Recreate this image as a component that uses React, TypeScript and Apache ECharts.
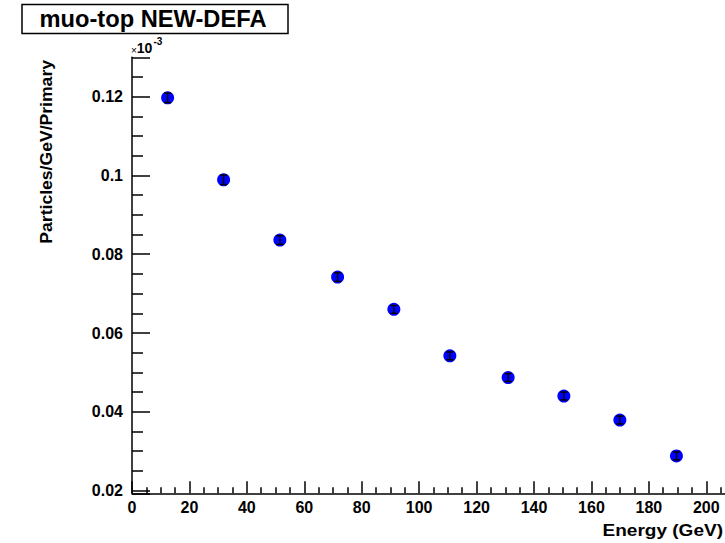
import React, { useEffect, useRef } from "react";
import * as echarts from "echarts";

const energy = [12.4, 31.9, 51.5, 71.6, 91.2, 110.7, 131.0, 150.4, 169.9, 189.6];
const particles = [0.1197, 0.0989, 0.0836, 0.0742, 0.066, 0.0542, 0.0487, 0.044, 0.0379, 0.0288];
const errors = [0.0012, 0.0012, 0.0011, 0.0011, 0.001, 0.001, 0.001, 0.001, 0.001, 0.001];

const titleText = "muo-top NEW-DEFA";
const xName = "Energy (GeV)";
const yName = "Particles/GeV/Primary";

const FONT = "'Liberation Sans', Arial, Helvetica, sans-serif";

export default function App() {
  const ref = useRef<HTMLDivElement>(null);
  useEffect(() => {
    if (!ref.current) return;
    const chart = echarts.init(ref.current, null, { renderer: "svg" });
    const points = energy.map((x, i) => [x, particles[i]]);
    const errData = energy.map((x, i) => [x, particles[i], errors[i]]);
    chart.setOption({
      animation: false,
      backgroundColor: "#ffffff",
      grid: { left: 132, top: 57.3, width: 603, height: 436, containLabel: false },
      xAxis: {
        type: "value",
        min: 0,
        max: 210,
        interval: 20,
        axisLine: { show: true, lineStyle: { color: "#000", width: 1.5 } },
        axisTick: { show: true, inside: true, length: 12, lineStyle: { color: "#000", width: 1.5 } },
        minorTick: { show: true, splitNumber: 4, length: 6, lineStyle: { color: "#000", width: 1.5 } },
        splitLine: { show: false },
        minorSplitLine: { show: false },
        axisLabel: {
          show: true,
          margin: 6,
          color: "#000",
          fontFamily: FONT,
          fontWeight: "bold",
          fontSize: 16,
          showMaxLabel: false,
        },
      },
      yAxis: {
        type: "value",
        min: 0.0193,
        max: 0.13,
        splitNumber: 5,
        axisLine: { show: true, onZero: false, lineStyle: { color: "#000", width: 1.5 } },
        axisTick: { show: true, inside: true, length: 18, lineStyle: { color: "#000", width: 1.5 } },
        minorTick: { show: true, splitNumber: 4, length: 11, lineStyle: { color: "#000", width: 1.5 } },
        splitLine: { show: false },
        minorSplitLine: { show: false },
        axisLabel: {
          show: true,
          margin: 9,
          color: "#000",
          fontFamily: FONT,
          fontWeight: "bold",
          fontSize: 16,
          showMinLabel: false,
          showMaxLabel: false,
        },
      },
      series: [
        {
          type: "scatter",
          data: points,
          symbol: "circle",
          symbolSize: 13,
          itemStyle: { color: "#0000ff", opacity: 1 },
          z: 2,
        },
        {
          type: "custom",
          data: errData,
          z: 3,
          renderItem: (params: any, api: any) => {
            const x = api.value(0);
            const y = api.value(1);
            const e = api.value(2);
            const c = api.coord([x, y]);
            const t = api.coord([x, y + e]);
            const b = api.coord([x, y - e]);
            const cap = 3.5;
            const st = { stroke: "#000", lineWidth: 1.5 };
            return {
              type: "group",
              children: [
                { type: "line", shape: { x1: c[0], y1: t[1], x2: c[0], y2: b[1] }, style: st },
                { type: "line", shape: { x1: c[0] - cap, y1: t[1], x2: c[0] + cap, y2: t[1] }, style: st },
                { type: "line", shape: { x1: c[0] - cap, y1: b[1], x2: c[0] + cap, y2: b[1] }, style: st },
              ],
            };
          },
        },
      ],
      graphic: [
        {
          type: "rect",
          shape: { x: 22, y: 4.5, width: 266, height: 29 },
          style: { fill: "#fff", stroke: "#000", lineWidth: 1.5 },
        },
        {
          type: "text",
          x: 153,
          y: 19.5,
          scaleX: 1.03,
          style: {
            text: titleText,
            font: `bold 23px ${FONT}`,
            fill: "#000",
            align: "center",
            verticalAlign: "middle",
          },
        },
        {
          type: "text",
          x: 47,
          y: 60,
          rotation: Math.PI / 2,
          scaleX: 1.1,
          style: {
            text: yName,
            font: `bold 16px ${FONT}`,
            fill: "#000",
            align: "right",
            verticalAlign: "middle",
          },
        },
        {
          type: "text",
          x: 723,
          y: 530,
          scaleX: 1.12,
          style: {
            text: xName,
            font: `bold 17px ${FONT}`,
            fill: "#000",
            align: "right",
            verticalAlign: "middle",
          },
        },
        {
          type: "text",
          x: 131,
          y: 55,
          style: {
            text: "{a|×}{b|10}{c|-3}",
            verticalAlign: "bottom",
            align: "left",
            rich: {
              a: { fontFamily: FONT, fontSize: 10, color: "#000", verticalAlign: "bottom" },
              b: { fontFamily: FONT, fontSize: 14, fontWeight: "bold", color: "#000", verticalAlign: "bottom" },
              c: { fontFamily: FONT, fontSize: 10, fontWeight: "bold", color: "#000", verticalAlign: "top", padding: [0, 0, 9, 1] },
            },
          },
        },
      ],
    });
    return () => chart.dispose();
  }, []);
  return (
    <div
      ref={ref}
      style={{ position: "fixed", left: 0, top: 0, width: 745, height: 543, background: "#fff" }}
    />
  );
}
